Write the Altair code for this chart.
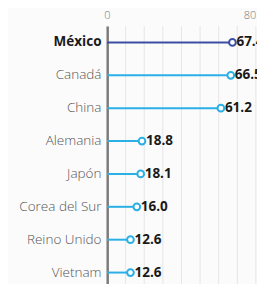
import altair as alt
import pandas as pd

countries = ["México", "Canadá", "China", "Alemania", "Japón", "Corea del Sur", "Reino Unido", "Vietnam"]
values = [67.4, 66.5, 61.2, 18.8, 18.1, 16.0, 12.6, 12.6]
colors = ["#3a4fa3", "#2bb0e6", "#2bb0e6", "#2bb0e6", "#2bb0e6", "#2bb0e6", "#2bb0e6", "#2bb0e6"]
grid_values = [0, 10, 20, 30, 40, 50, 60, 70, 80]
tick_labels = [0, 80]

df = pd.DataFrame({"pais": countries, "valor": values, "color": colors, "cero": [0] * len(values)})

FONT = "Open Sans"
xscale = alt.Scale(domain=[0, 80.6], nice=False)

y = alt.Y("pais:N", sort=countries, scale=alt.Scale(paddingOuter=0, paddingInner=0),
          axis=alt.Axis(title=None, ticks=False, domainColor="#111", domainWidth=2,
                        labelFont=FONT, labelFontSize=13.5, labelPadding=6,
                        labelColor=alt.expr("datum.value == 'México' ? '#1a1a1a' : '#555'"),
                        labelFontWeight=alt.expr("datum.value == 'México' ? 'bold' : 300")))

grid_df = pd.DataFrame({"g": grid_values})
grid = alt.Chart(grid_df).mark_rule(color="#e6e6e6", strokeWidth=1).encode(
    x=alt.X("g:Q", scale=xscale,
            axis=alt.Axis(orient="top", values=tick_labels, title=None, ticks=False, domain=False,
                          grid=False, labelColor="#777", labelFontSize=11, labelFont=FONT,
                          labelFontWeight=300, labelPadding=6,
                          labelAlign=alt.expr("datum.value >= 80 ? 'right' : 'center'"))))

rules = alt.Chart(df).mark_rule(strokeWidth=2).encode(
    x=alt.X("cero:Q", scale=xscale), x2="valor:Q", y=y, color=alt.Color("color:N", scale=None))
pts = alt.Chart(df).mark_point(filled=True, fill="white", strokeWidth=2, size=45, opacity=1).encode(
    x=alt.X("valor:Q", scale=xscale), y=y, stroke=alt.Stroke("color:N", scale=None))
txt = alt.Chart(df).mark_text(align="left", dx=4, font=FONT, fontSize=13.5, fontWeight="bold",
                              color="#1a1a1a").encode(x="valor:Q", y=y, text=alt.Text("valor:Q", format=".1f"))

chart = alt.layer(grid, rules, pts, txt).properties(
    width=150, height=263,
    autosize=alt.AutoSizeParams(type="none"),
    padding={"left": 99, "top": 18, "right": 0, "bottom": 0},
    background="#fbfbfb",
).configure_view(stroke=None)

chart.save("out.html", embed_options={"renderer": "svg", "actions": False})
